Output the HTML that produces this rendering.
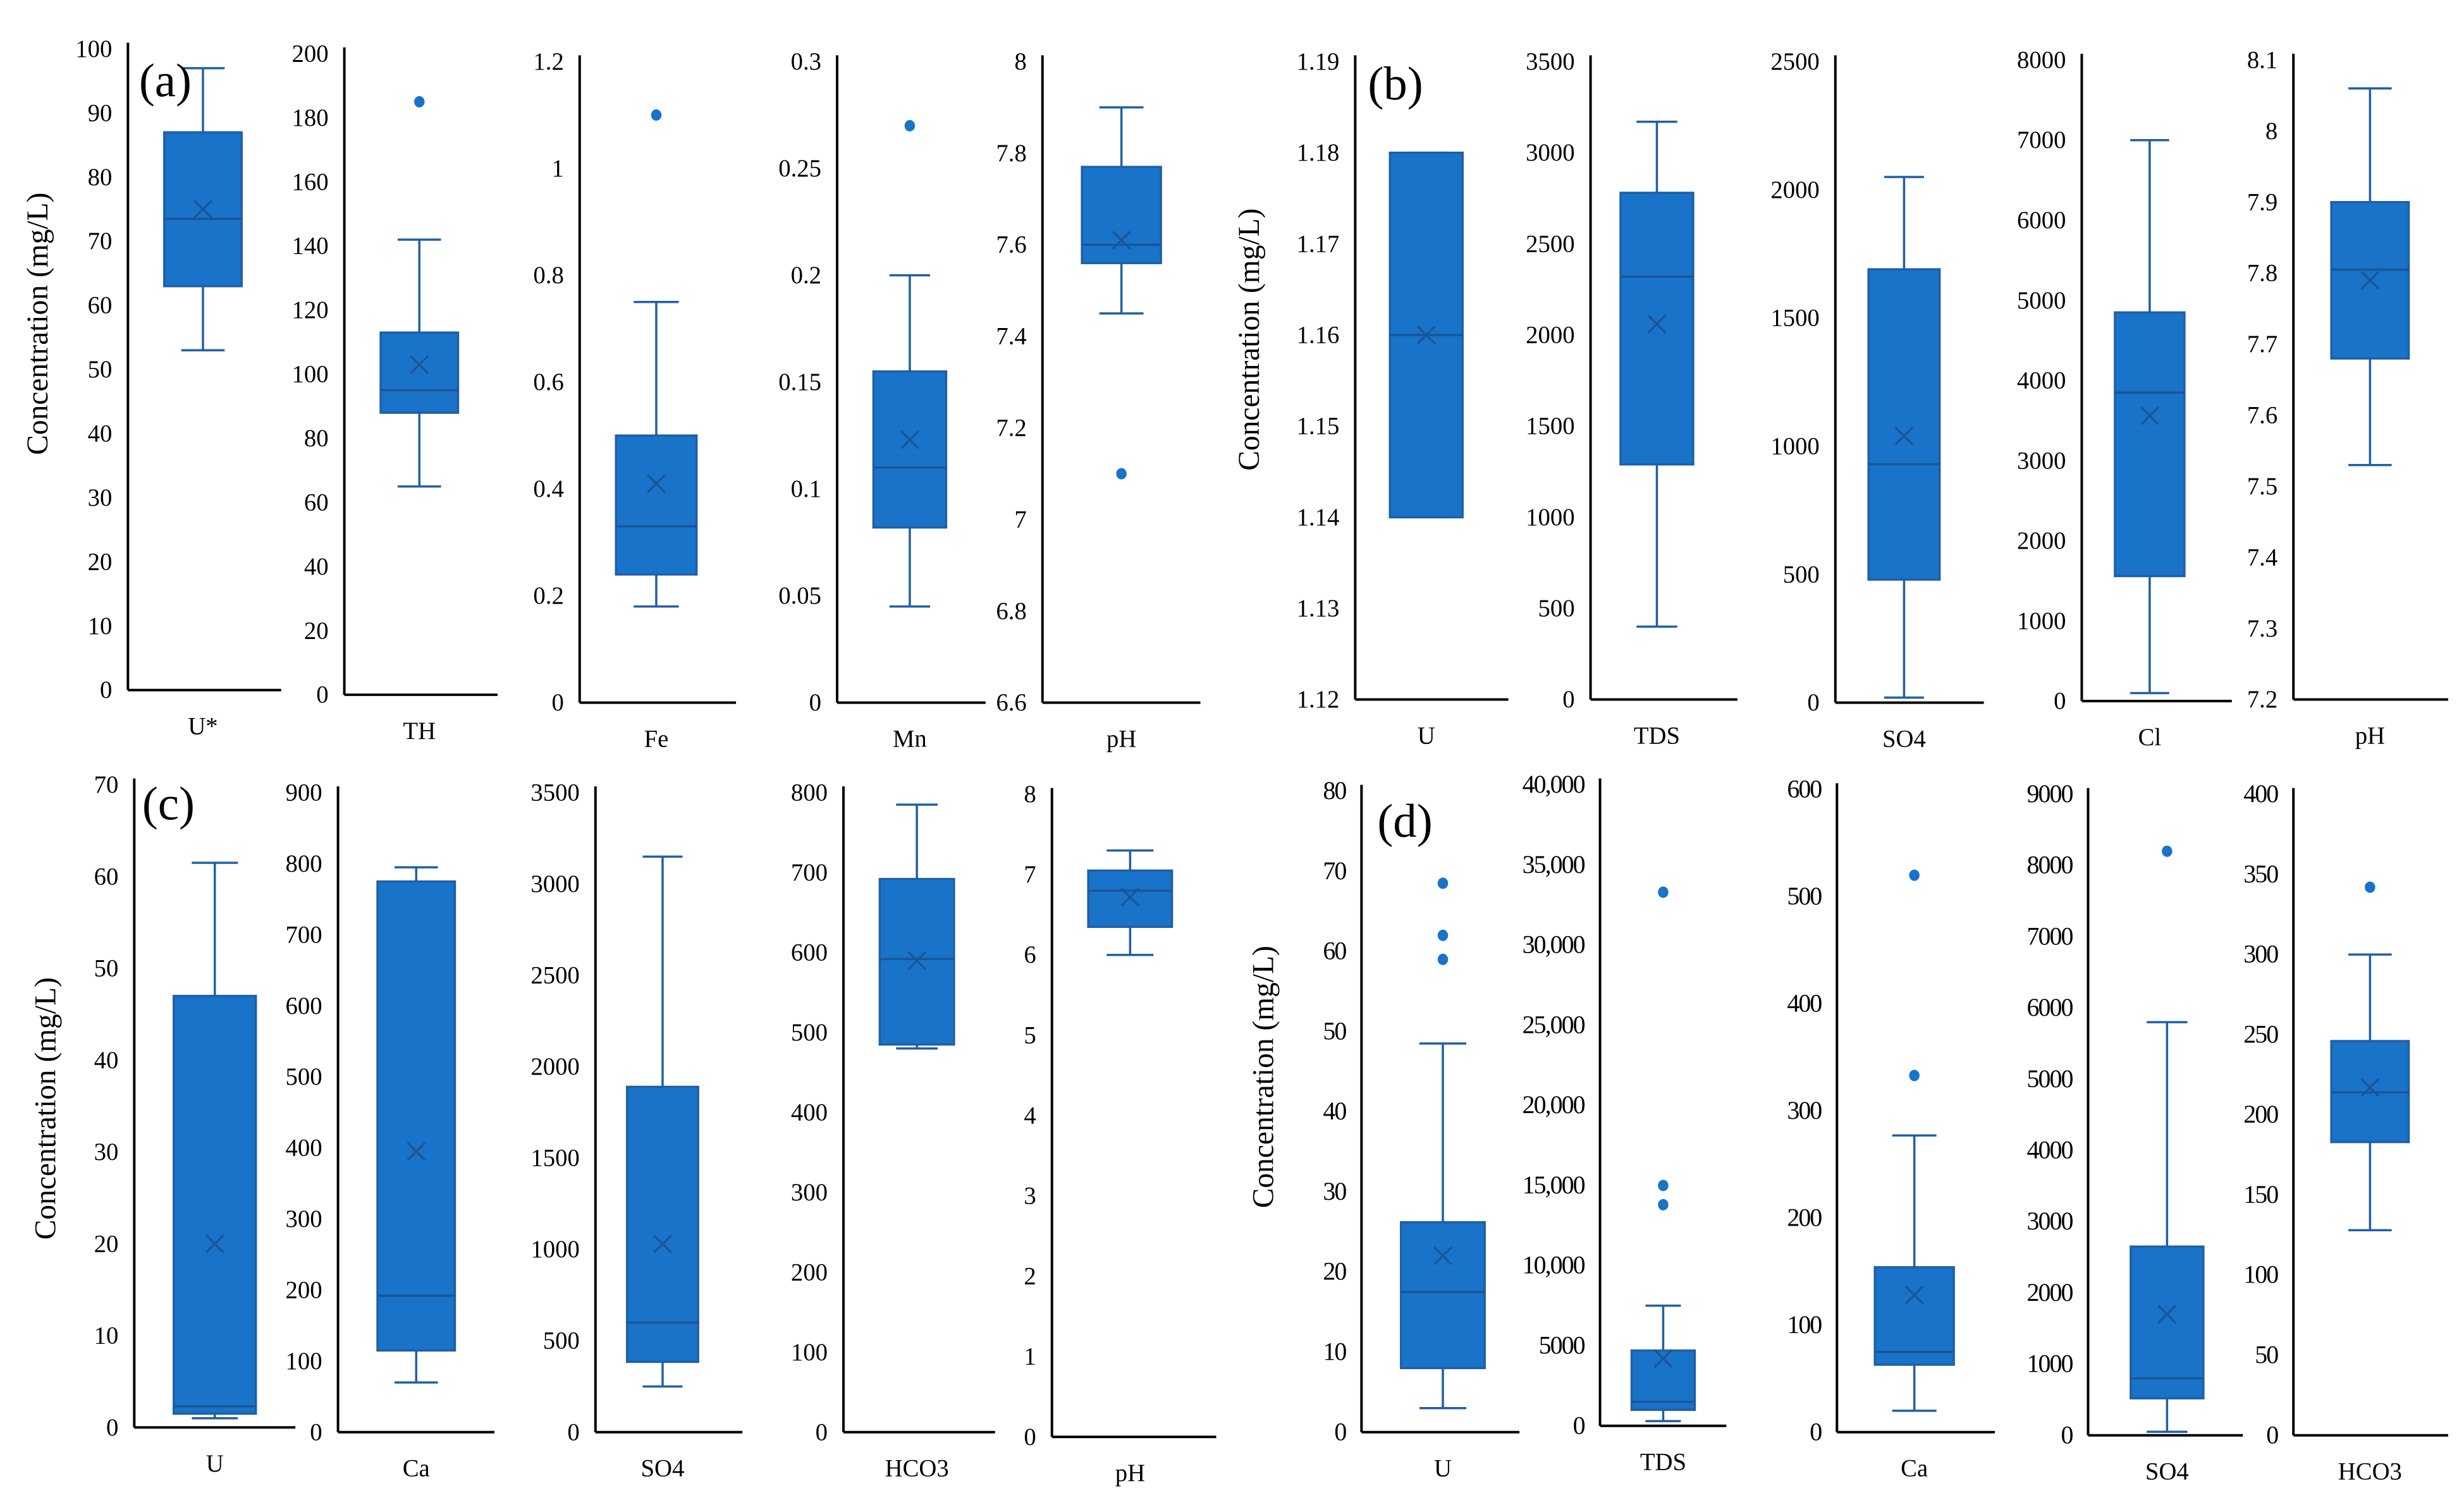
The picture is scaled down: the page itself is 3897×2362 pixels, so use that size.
<!DOCTYPE html>
<html><head><meta charset="utf-8"><style>
html,body{margin:0;padding:0;background:#fff;width:3897px;height:2362px;overflow:hidden}
svg{display:block}
text{font-family:"Liberation Serif",serif;fill:#000}
</style></head><body>
<svg id="chart" width="3897" height="2362" viewBox="0 0 1560 945.5" xmlns="http://www.w3.org/2000/svg"></svg>
<script>
const names  = ["U*","TH","Fe","Mn","pH","U","TDS","SO4","Cl","pH","U","Ca","SO4","HCO3","pH","U","TDS","Ca","SO4","HCO3"];
const mins   = [53,65,0.18,0.045,7.45,1.14,400,20,100,7.53,1,70,250,480,6,3,300,20,50,128];
const q1s    = [63,88,0.24,0.082,7.56,1.14,1290,480,1560,7.68,1.5,115,385,485,6.35,8,1000,63,520,183];
const meds   = [73.5,95,0.33,0.11,7.6,1.16,2320,930,3850,7.805,2.3,192,600,592,6.8,17.5,1500,75,800,214];
const q3s    = [87,113,0.50,0.155,7.77,1.18,2780,1690,4850,7.9,47,775,1890,692,7.05,26.2,4700,154,2650,246];
const maxs   = [97,142,0.75,0.20,7.9,1.18,3170,2050,7000,8.06,61.5,795,3150,785,7.3,48.5,7500,277,5800,300];
const means  = [75,103,0.41,0.123,7.61,1.16,2060,1040,3560,7.79,20,395,1030,590,6.72,22,4200,128,1700,217];
const outliers = [[],[185],[1.1],[0.27],[7.1],[],[],[],[],[],[],[],[],[],[],[59,62,68.5],[13800,15000,33300],[333,520],[8200],[342]];
const axisMin  = [0,0,0,0,6.6,1.12,0,0,0,7.2,0,0,0,0,0,0,0,0,0,0];
const axisMax  = [100,200,1.2,0.3,8,1.19,3500,2500,8000,8.1,70,900,3500,800,8,80,40000,600,9000,400];
const axisStep = [10,20,0.2,0.05,0.2,0.01,500,500,1000,0.1,10,100,500,100,1,10,5000,100,1000,50];
const tickDecimals = [0,0,1,2,1,2,0,0,0,1,0,0,0,0,0,0,0,0,0,0];
const useComma = [0,0,0,0,0,0,0,0,0,0,0,0,0,0,0,0,1,0,0,0];
const L = [
 [81,31,437,178,104,153],[218,34,440,315,241,290],[367,39,445,466,390,441],[530,39,445,624,553,599],[660,39,445,760,685,735],
 [858,39,443,955,880,926],[1007,39,443,1100,1026,1072],[1162,39,445,1256,1183,1228],[1318,38,444,1413,1339,1383],[1452,38,443,1550,1476,1525],
 [85,497,904,187,110,162],[214,502,907,313,239,288],[377,502,907,470,397,442],[534,502,907,630,557,604],[666,503,910,770,689,742],
 [862,501,907,962,887,940],[1013,497,903,1093,1033,1073],[1163,500,907,1263,1187,1237],[1322,503,909,1420,1349,1395],[1452,503,909,1550,1476,1525]];
const panelLabels = [["(a)",88,61],["(b)",866,63],["(c)",90,519],["(d)",872,530]];
const yTitles = [[30,205],[797,215],[35,702],[806,682]];

const svg = document.getElementById('chart');
const NS = 'http://www.w3.org/2000/svg';
function mk(tag, attrs, parent){const e=document.createElementNS(NS,tag);for(const k in attrs)e.setAttribute(k,attrs[k]);(parent||svg).appendChild(e);return e;}
const FILL='#1873c9', STROKE='#1f5fa6';

for(let i=0;i<names.length;i++){
  const [ax,top,bot,xend,bl,br]=L[i];
  const g=mk('g',{});
  
  
  const y=v=>bot-(v-axisMin[i])/(axisMax[i]-axisMin[i])*(bot-top);
  const cx=(bl+br)/2, cap=(br-bl)*0.28;
  const ya=mk('line',{x1:ax,y1:top-4,x2:ax,y2:bot,stroke:'#000','stroke-width':1.6},g);
  
  
  const xa=mk('line',{x1:ax,y1:bot,x2:xend,y2:bot,stroke:'#000','stroke-width':1.6},g);
  
  
  const n=Math.round((axisMax[i]-axisMin[i])/axisStep[i]);
  for(let k=0;k<=n;k++){
    const v=axisMin[i]+k*axisStep[i];
    let s;
    if(useComma[i]) s = v>=10000 ? Math.round(v).toLocaleString('en-US') : String(Math.round(v));
    else { s=v.toFixed(tickDecimals[i]); s=String(parseFloat(s)); }
    const t=mk('text',{x:ax-10,y:y(v)+5,'text-anchor':'end','font-size':15.5},g);
    if(i>=15) t.setAttribute('style','font-size:16px;letter-spacing:-0.8px');
    t.textContent=s;
    
    
  }
  const w1=mk('line',{x1:cx,y1:y(maxs[i]),x2:cx,y2:y(q3s[i]),stroke:STROKE,'stroke-width':1.4},g);
  
  
  const w2=mk('line',{x1:cx,y1:y(q1s[i]),x2:cx,y2:y(mins[i]),stroke:STROKE,'stroke-width':1.4},g);
  
  
  for(const v of [maxs[i],mins[i]]){
    const c=mk('line',{x1:cx-cap,y1:y(v),x2:cx+cap,y2:y(v),stroke:STROKE,'stroke-width':1.4},g);
    
    
  }
  const b=mk('rect',{x:bl,y:y(q3s[i]),width:br-bl,height:Math.max(0.5,y(q1s[i])-y(q3s[i])),fill:FILL,stroke:STROKE,'stroke-width':1.4},g);
  
  
  const m=mk('line',{x1:bl,y1:y(meds[i]),x2:br,y2:y(meds[i]),stroke:'#1b5596','stroke-width':1.4},g);
  
  
  const my=y(means[i]), d=5.5;
  const mm=mk('path',{d:`M${cx-d},${my-d}L${cx+d},${my+d}M${cx+d},${my-d}L${cx-d},${my+d}`,stroke:'#1b5596','stroke-width':1.3,fill:'none'},g);
  
  
  for(const o of outliers[i]){
    const c=mk('ellipse',{cx:cx,cy:y(o),rx:3.3,ry:3.6,fill:FILL},g);
    
    
  }
  const lab=mk('text',{x:cx,y:bot+28,'text-anchor':'middle','font-size':15.5},g);
  if(names[i]==='Cl') lab.setAttribute('fill','#666');
  lab.textContent=names[i];
  
  
}
for(const [s,x,y] of panelLabels){
  const t=mk('text',{x:x,y:y,'font-size':30});
  t.textContent=s;
  
  
}
for(const [x,y] of yTitles){
  const t=mk('text',{x:x,y:y,'text-anchor':'middle','font-size':19,transform:`rotate(-90 ${x} ${y})`});
  t.textContent='Concentration (mg/L)';
  
  
}
</script>
</body></html>
